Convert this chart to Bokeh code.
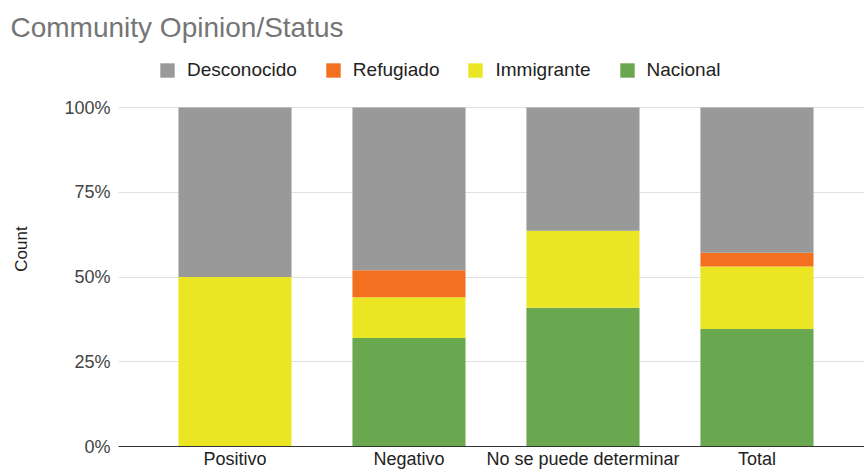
from bokeh.plotting import figure
from bokeh.models import (Range1d, FixedTicker, NumeralTickFormatter, Legend,
                          LegendItem, ColumnDataSource)
from bokeh.embed import file_html
from bokeh.resources import INLINE

# ---- data (counts per opinion category) ----
categories = ["Positivo", "Negativo", "No se puede determinar", "Total"]
nacional = [0, 8, 9, 17]
immigrante = [1, 3, 5, 9]
refugiado = [0, 2, 0, 2]
desconocido = [1, 12, 8, 21]
status_names = ["Nacional", "Immigrante", "Refugiado", "Desconocido"]
status_colors = ["#6aa84f", "#ebe623", "#f37021", "#999999"]
y_ticks = [0, 0.25, 0.5, 0.75, 1.0]

FONT = "Liberation Sans"

series = [nacional, immigrante, refugiado, desconocido]
totals = [sum(s[i] for s in series) for i in range(len(categories))]
data = {"x": list(range(len(categories)))}
for name, vals in zip(status_names, series):
    data[name] = [v / t for v, t in zip(vals, totals)]
source = ColumnDataSource(data)

# y range extends above 100% to leave room for the legend inside the frame
p = figure(width=864, height=471, output_backend="svg", toolbar_location=None,
           x_range=Range1d(-0.6695, 3.618), y_range=Range1d(0, 1.1652),
           min_border_left=118, min_border_right=0, min_border_top=51,
           min_border_bottom=0)

renderers = p.vbar_stack(status_names, x="x", width=0.65, source=source,
                         color=status_colors, line_color=None)

p.title.text = "Community Opinion/Status"
p.title.text_font = FONT
p.title.text_font_size = "28px"
p.title.text_font_style = "normal"
p.title.text_color = "#757575"
p.title.align = "left"
p.title.offset = -108
p.title.standoff = 17

# axes
p.xaxis.ticker = FixedTicker(ticks=list(range(len(categories))))
p.xaxis.major_label_overrides = {i: c for i, c in enumerate(categories)}
p.xaxis.major_tick_line_color = None
p.xaxis.major_tick_out = 0
p.xaxis.major_tick_in = 0
p.xaxis.minor_tick_line_color = None
p.xaxis.minor_tick_out = 0
p.xaxis.axis_line_color = "#333333"
p.xaxis.major_label_text_font = FONT
p.xaxis.major_label_text_font_size = "18px"
p.xaxis.major_label_text_color = "#222222"
p.xaxis.major_label_standoff = 2

p.yaxis.ticker = FixedTicker(ticks=y_ticks)
p.yaxis.formatter = NumeralTickFormatter(format="0%")
p.yaxis.axis_line_color = None
p.yaxis.major_tick_line_color = None
p.yaxis.major_tick_out = 0
p.yaxis.major_tick_in = 0
p.yaxis.minor_tick_line_color = None
p.yaxis.minor_tick_out = 0
p.yaxis.major_label_text_font = FONT
p.yaxis.major_label_text_font_size = "18px"
p.yaxis.major_label_text_color = "#444444"
p.yaxis.major_label_standoff = 8
p.yaxis.axis_label = "Count"
p.yaxis.axis_label_text_font = FONT
p.yaxis.axis_label_text_font_size = "17px"
p.yaxis.axis_label_text_font_style = "normal"
p.yaxis.axis_label_text_color = "#222222"
p.yaxis.axis_label_standoff = 30

p.xgrid.grid_line_color = None
p.ygrid.grid_line_color = "#e0e0e0"
p.ygrid.grid_line_width = 1
p.outline_line_color = None

# legend (reverse order: top series first)
items = [LegendItem(label=n, renderers=[r]) for n, r in zip(status_names, renderers)][::-1]
legend = Legend(items=items, orientation="horizontal", location=(40, 365),
                glyph_width=18, glyph_height=18, label_standoff=11, spacing=27,
                padding=0, margin=0, border_line_color=None,
                background_fill_alpha=0, label_text_font=FONT,
                label_text_font_size="19px", label_text_color="#222222")
p.add_layout(legend, "center")

open("out.html", "w").write(file_html(p, INLINE))
